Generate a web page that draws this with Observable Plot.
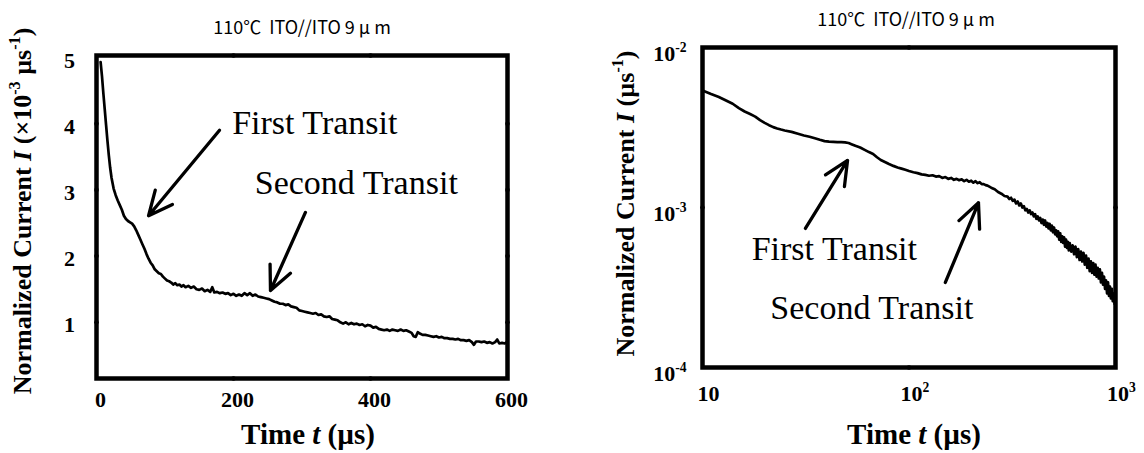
<!DOCTYPE html>
<html>
<head>
<meta charset="utf-8">
<script src="https://cdn.jsdelivr.net/npm/d3@7"></script>
<script src="https://cdn.jsdelivr.net/npm/@observablehq/plot@0.6"></script>
<style>
  html, body { margin: 0; padding: 0; background: #fff; }
  #wrap { display: flex; width: 1144px; height: 453px; overflow: hidden; }
  #wrap svg { display: block; flex: none; }
</style>
</head>
<body>
<div id="wrap"></div>
<script>
// ---------------- text ----------------
const titleText = "110℃  ITO//ITO 9 μ m";
const timeLabel = "Time {i:t} (µs)";
const linearCurrentLabel = "Normalized Current {i:I} (×10{sup:-3} µs{sup:-1})";
const logCurrentLabel = "Normalized Current {i:I} (µs{sup:-1})";
const transitNames = ["First Transit", "Second Transit"];

// ---------------- linear panel: time (µs), current (×10⁻³ µs⁻¹) ----------------
const linTime = [
  6, 8, 10, 12, 14, 16, 18, 20, 22, 25, 28, 31, 34, 37, 40, 43, 46, 49, 52, 55,
  58, 61, 64, 67, 70, 73, 76, 79, 82, 85, 88, 91, 94, 97, 100, 103, 106, 109, 112, 115,
  118, 121, 124, 127, 130, 134, 138, 142, 146, 150, 154, 158, 162, 166, 169, 172, 176, 180, 184, 188,
  192, 196, 200, 204, 208, 212, 216, 220, 224, 228, 232, 236, 240, 244, 248, 252, 256, 260, 264, 268,
  272, 276, 280, 284, 288, 292, 296, 300, 304, 308, 312, 316, 320, 324, 328, 332, 336, 340, 344, 348,
  352, 356, 360, 364, 368, 372, 376, 380, 384, 388, 392, 396, 400, 404, 408, 412, 416, 420, 424, 428,
  432, 436, 440, 444, 448, 452, 456, 460, 463, 466, 469, 472, 476, 480, 484, 488, 492, 496, 500, 504,
  508, 512, 516, 520, 524, 528, 532, 536, 540, 544, 548, 551, 554, 558, 562, 566, 570, 574, 578, 582,
  585, 588, 592, 596, 599
];
const linCurrent = [
  4.93, 4.72, 4.46, 4.22, 3.98, 3.74, 3.52, 3.33, 3.18, 3.02, 2.92, 2.84, 2.77, 2.70, 2.61, 2.56, 2.53, 2.51, 2.49, 2.45,
  2.39, 2.32, 2.25, 2.18, 2.11, 2.03, 1.96, 1.90, 1.86, 1.80, 1.77, 1.74, 1.73, 1.69, 1.66, 1.63, 1.62, 1.60, 1.57, 1.59,
  1.56, 1.57, 1.54, 1.56, 1.53, 1.55, 1.52, 1.54, 1.50, 1.49, 1.51, 1.47, 1.49, 1.46, 1.53, 1.45, 1.46, 1.44, 1.45, 1.43,
  1.44, 1.41, 1.43, 1.40, 1.42, 1.40, 1.44, 1.41, 1.44, 1.40, 1.42, 1.39, 1.38, 1.37, 1.36, 1.35, 1.33, 1.31, 1.30, 1.28,
  1.28, 1.26, 1.27, 1.24, 1.23, 1.22, 1.18, 1.17, 1.16, 1.15, 1.14, 1.13, 1.14, 1.11, 1.12, 1.09, 1.08, 1.09, 1.05, 1.04,
  1.03, 1.00, 0.98, 1.00, 0.97, 0.99, 0.97, 0.98, 0.96, 0.97, 0.94, 0.96, 0.95, 0.92, 0.93, 0.90, 0.89, 0.88, 0.89, 0.87,
  0.89, 0.88, 0.87, 0.89, 0.87, 0.88, 0.86, 0.84, 0.79, 0.78, 0.85, 0.83, 0.81, 0.81, 0.80, 0.79, 0.78, 0.79, 0.77, 0.78,
  0.76, 0.76, 0.75, 0.75, 0.74, 0.75, 0.73, 0.73, 0.72, 0.73, 0.70, 0.66, 0.71, 0.71, 0.70, 0.71, 0.69, 0.70, 0.68, 0.70,
  0.74, 0.68, 0.69, 0.68, 0.70
];
const linXTicks = [0, 200, 400, 600];
const linXTickLabels = ["0", "200", "400", "600"];
const linYTicks = [1, 2, 3, 4, 5];
const linYTickLabels = ["1", "2", "3", "4", "5"];
const linXMinor = [200, 400];
const linYMinor = [1, 2, 3, 4];
// annotation anchors (time, current)
const linLabelTime = [198, 231];
const linLabelCurrent = [3.85, 2.945];
const linArrowFromTime = [179.6, 305];
const linArrowFromCurrent = [3.90, 2.66];
const linArrowToTime = [76, 254];
const linArrowToCurrent = [2.61, 1.48];

// ---------------- log panel: time (µs), current (µs⁻¹) ----------------
const logTime = [
  10, 11, 12, 13, 14, 15, 16, 17, 18, 19, 20, 21, 22, 23, 24, 25, 27, 29, 31, 33,
  35, 37, 39, 41, 43, 45, 47, 49, 51, 53, 55, 58, 61, 64, 67, 70, 73, 76, 80, 84,
  88, 92, 96, 100, 105, 110, 115, 120, 125, 130, 135, 140, 145, 150, 155, 160, 165, 170, 175, 180,
  185, 190, 195, 200, 205, 210, 215, 220, 225, 230, 235, 240, 245, 250, 260, 270, 280, 290, 300, 306,
  312, 318, 324, 330, 336, 342, 348, 354, 360, 366, 372, 378, 384, 390, 396, 402, 408, 414, 420, 426,
  432, 438, 444, 450, 456, 462, 468, 474, 480, 486, 492, 498, 504, 510, 516, 522, 528, 534, 540, 546,
  552, 558, 564, 570, 576, 582, 588, 594, 600, 610, 620, 630, 640, 650, 660, 670, 680, 690, 700, 710,
  720, 730, 740, 750, 760, 770, 780, 790, 800, 810, 820, 830, 840, 850, 860, 870, 880, 890, 900, 910,
  920, 930, 940, 950, 960, 970, 980, 990, 1000
];
const logCurrent = [
  5.39e-3, 5.12e-3, 4.90e-3, 4.66e-3, 4.45e-3, 4.18e-3, 3.98e-3, 3.84e-3, 3.70e-3, 3.52e-3,
  3.38e-3, 3.27e-3, 3.18e-3, 3.12e-3, 3.07e-3, 3.03e-3, 2.97e-3, 2.89e-3, 2.82e-3, 2.77e-3,
  2.71e-3, 2.65e-3, 2.60e-3, 2.58e-3, 2.57e-3, 2.56e-3, 2.56e-3, 2.55e-3, 2.53e-3, 2.48e-3,
  2.43e-3, 2.37e-3, 2.29e-3, 2.22e-3, 2.16e-3, 2.06e-3, 1.98e-3, 1.93e-3, 1.87e-3, 1.82e-3,
  1.78e-3, 1.75e-3, 1.72e-3, 1.69e-3, 1.66e-3, 1.64e-3, 1.61e-3, 1.60e-3, 1.58e-3, 1.59e-3,
  1.56e-3, 1.57e-3, 1.53e-3, 1.55e-3, 1.51e-3, 1.53e-3, 1.49e-3, 1.51e-3, 1.48e-3, 1.50e-3,
  1.46e-3, 1.49e-3, 1.45e-3, 1.47e-3, 1.43e-3, 1.46e-3, 1.42e-3, 1.44e-3, 1.40e-3, 1.40e-3,
  1.38e-3, 1.37e-3, 1.35e-3, 1.33e-3, 1.30e-3, 1.25e-3, 1.22e-3, 1.18e-3, 1.17e-3, 1.13e-3,
  1.15e-3, 1.10e-3, 1.12e-3, 1.06e-3, 1.09e-3, 1.03e-3, 1.06e-3, 1.00e-3, 1.02e-3, 0.96e-3,
  0.98e-3, 0.93e-3, 0.96e-3, 0.91e-3, 0.93e-3, 0.88e-3, 0.91e-3, 0.85e-3, 0.88e-3, 0.83e-3,
  0.86e-3, 0.80e-3, 0.84e-3, 0.78e-3, 0.83e-3, 0.76e-3, 0.80e-3, 0.74e-3, 0.79e-3, 0.72e-3,
  0.77e-3, 0.70e-3, 0.75e-3, 0.68e-3, 0.72e-3, 0.66e-3, 0.71e-3, 0.63e-3, 0.69e-3, 0.61e-3,
  0.66e-3, 0.60e-3, 0.65e-3, 0.57e-3, 0.63e-3, 0.56e-3, 0.61e-3, 0.54e-3, 0.60e-3, 0.53e-3,
  0.58e-3, 0.51e-3, 0.57e-3, 0.49e-3, 0.55e-3, 0.47e-3, 0.53e-3, 0.46e-3, 0.52e-3, 0.44e-3,
  0.50e-3, 0.42e-3, 0.48e-3, 0.40e-3, 0.46e-3, 0.39e-3, 0.45e-3, 0.38e-3, 0.44e-3, 0.37e-3,
  0.42e-3, 0.36e-3, 0.41e-3, 0.34e-3, 0.39e-3, 0.33e-3, 0.37e-3, 0.31e-3, 0.35e-3, 0.29e-3,
  0.34e-3, 0.28e-3, 0.32e-3, 0.27e-3, 0.31e-3, 0.26e-3, 0.29e-3, 0.25e-3, 0.26e-3
];
const logXTicks = [10, 100, 1000];
const logXTickLabels = ["10", "10{sup:2}", "10{sup:3}"];
const logYTicks = [1e-2, 1e-3, 1e-4];
const logYTickLabels = ["10{sup:-2}", "10{sup:-3}", "10{sup:-4}"];
const logXMinor = [100];
const logYMinor = [1e-3];
const logLabelTime = [17.3, 21.3];
const logLabelCurrent = [4.73e-4, 2.02e-4];
const logArrowFromTime = [31.5, 150];
const logArrowFromCurrent = [7.4e-4, 3.4e-4];
const logArrowToTime = [50.4, 217];
const logArrowToCurrent = [1.97e-3, 1.07e-3];

// ---------------- shared styling ----------------
const serif = "'Liberation Serif', 'Times New Roman', Times, serif";
const gothic = "'Noto Sans CJK JP', 'Noto Sans', sans-serif";

const rows = (xs, ys) => xs.map((x, i) => ({x, y: ys[i]}));
const arrowRows = (x1, y1, x2, y2) => x1.map((_, i) => ({x1: x1[i], y1: y1[i], x2: x2[i], y2: y2[i]}));
const labelRows = (xs, ys) => xs.map((x, i) => ({x, y: ys[i], text: transitNames[i]}));

function panel(cfg) {
  const series = rows(cfg.time, cfg.current);
  return Plot.plot({
    width: 572,
    height: 453,
    marginLeft: cfg.margin[0],
    marginRight: cfg.margin[1],
    marginTop: cfg.margin[2],
    marginBottom: cfg.margin[3],
    style: {background: "white", overflow: "visible"},
    x: {type: cfg.type, domain: cfg.xDomain, axis: null},
    y: {type: cfg.type, domain: cfg.yDomain, axis: null},
    marks: [
      Plot.line(series, {x: "x", y: "y", stroke: "black", strokeWidth: 2.7, strokeLinejoin: "round", clip: true}),
      Plot.frame({stroke: "black", strokeWidth: 4.5}),
      // small tick bumps on the frame
      Plot.dot(cfg.xMinor, {x: d => d, frameAnchor: "bottom", r: 2.3, fill: "black", stroke: null}),
      Plot.dot(cfg.xMinor, {x: d => d, frameAnchor: "top", r: 2.3, fill: "black", stroke: null}),
      Plot.dot(cfg.yMinor, {y: d => d, frameAnchor: "left", r: 2.3, fill: "black", stroke: null}),
      Plot.dot(cfg.yMinor, {y: d => d, frameAnchor: "right", r: 2.3, fill: "black", stroke: null}),
      // tick labels
      Plot.text(cfg.xTicks, {x: d => d, text: (d, i) => cfg.xTickLabels[i], frameAnchor: "bottom",
        lineAnchor: "middle", dx: cfg.xTickDx, dy: cfg.xTickDy,
        fontFamily: serif, fontWeight: "bold", fontSize: 22, fill: "black"}),
      Plot.text(cfg.yTicks, {y: d => d, text: (d, i) => cfg.yTickLabels[i], frameAnchor: "left",
        textAnchor: cfg.yTickAnchor, dx: cfg.yTickDx, dy: cfg.yTickDy,
        fontFamily: serif, fontWeight: "bold", fontSize: 22, fill: "black"}),
      // axis titles
      Plot.text([timeLabel], {text: d => d, frameAnchor: "bottom", lineAnchor: "bottom",
        dx: cfg.xTitleDx, dy: cfg.xTitleDy, fontFamily: serif, fontWeight: "bold", fontSize: 29, fill: "black"}),
      Plot.text([cfg.yLabel], {text: d => d, frameAnchor: "left", rotate: -90, textAnchor: "middle",
        lineAnchor: "middle", dx: cfg.yTitleDx, dy: cfg.yTitleDy,
        fontFamily: serif, fontWeight: "bold", fontSize: 26, fill: "black"}),
      // chart title
      Plot.text([titleText], {text: d => d, frameAnchor: "top", lineAnchor: "middle",
        dx: cfg.titleDx, dy: cfg.titleDy, fontFamily: gothic, fontSize: 18, fill: "black"}),
      // transit annotations
      Plot.arrow(arrowRows(cfg.arrowFromTime, cfg.arrowFromCurrent, cfg.arrowToTime, cfg.arrowToCurrent),
        {x1: "x1", y1: "y1", x2: "x2", y2: "y2", stroke: "black", strokeWidth: 3.3, headLength: 12, headAngle: 50}),
      Plot.text(labelRows(cfg.labelTime, cfg.labelCurrent), {x: "x", y: "y", text: "text",
        textAnchor: "start", lineAnchor: "bottom", fontFamily: serif, fontSize: 34, fill: "black"})
    ]
  });
}

// Turn {i:..} and {sup:..} markup inside SVG text into styled tspans.
function richText(svg) {
  const NS = "http://www.w3.org/2000/svg";
  svg.querySelectorAll("text").forEach(el => {
    const s = el.textContent;
    if (!s.includes("{")) return;
    const fs = parseFloat(getComputedStyle(el).fontSize) || 20;
    const shift = Math.round(fs * 0.42);
    const parts = s.split(/(\{(?:i|sup):[^}]*\})/).filter(p => p !== "");
    el.textContent = "";
    let raised = false;
    for (const p of parts) {
      const m = p.match(/^\{(i|sup):([^}]*)\}$/);
      const t = document.createElementNS(NS, "tspan");
      if (m && m[1] === "sup") {
        t.setAttribute("font-size", (fs * 0.62).toFixed(1));
        if (!raised) t.setAttribute("dy", -shift);
        raised = true;
        t.textContent = m[2];
      } else {
        if (raised) t.setAttribute("dy", shift);
        raised = false;
        if (m) t.setAttribute("font-style", "italic");
        t.textContent = m ? m[2] : p;
      }
      el.appendChild(t);
    }
  });
}

const linearPanel = panel({
  type: "linear",
  time: linTime, current: linCurrent,
  margin: [96, 65, 55, 75],
  xDomain: [0, 600], yDomain: [0.151, 5.03],
  xTicks: linXTicks, xTickLabels: linXTickLabels, xTickDx: 4, xTickDy: 21,
  yTicks: linYTicks, yTickLabels: linYTickLabels, yTickAnchor: "middle", yTickDx: -27, yTickDy: 3,
  xMinor: linXMinor, yMinor: linYMinor,
  xTitleDx: 6, xTitleDy: 65,
  yLabel: linearCurrentLabel, yTitleDx: -74, yTitleDy: -6,
  titleDx: 0, titleDy: -27,
  labelTime: linLabelTime, labelCurrent: linLabelCurrent,
  arrowFromTime: linArrowFromTime, arrowFromCurrent: linArrowFromCurrent,
  arrowToTime: linArrowToTime, arrowToCurrent: linArrowToCurrent
});

const logPanel = panel({
  type: "log",
  time: logTime, current: logCurrent,
  margin: [130, 29, 47, 86],
  xDomain: [10, 1000], yDomain: [1e-4, 1e-2],
  xTicks: logXTicks, xTickLabels: logXTickLabels, xTickDx: 6, xTickDy: 26,
  yTicks: logYTicks, yTickLabels: logYTickLabels, yTickAnchor: "end", yTickDx: -16, yTickDy: 6,
  xMinor: logXMinor, yMinor: logYMinor,
  xTitleDx: 5, xTitleDy: 76,
  yLabel: logCurrentLabel, yTitleDx: -77, yTitleDy: -4,
  titleDx: -3, titleDy: -27,
  labelTime: logLabelTime, labelCurrent: logLabelCurrent,
  arrowFromTime: logArrowFromTime, arrowFromCurrent: logArrowFromCurrent,
  arrowToTime: logArrowToTime, arrowToCurrent: logArrowToCurrent
});

const wrap = document.getElementById("wrap");
wrap.append(linearPanel, logPanel);
richText(linearPanel);
richText(logPanel);
</script>
</body>
</html>
